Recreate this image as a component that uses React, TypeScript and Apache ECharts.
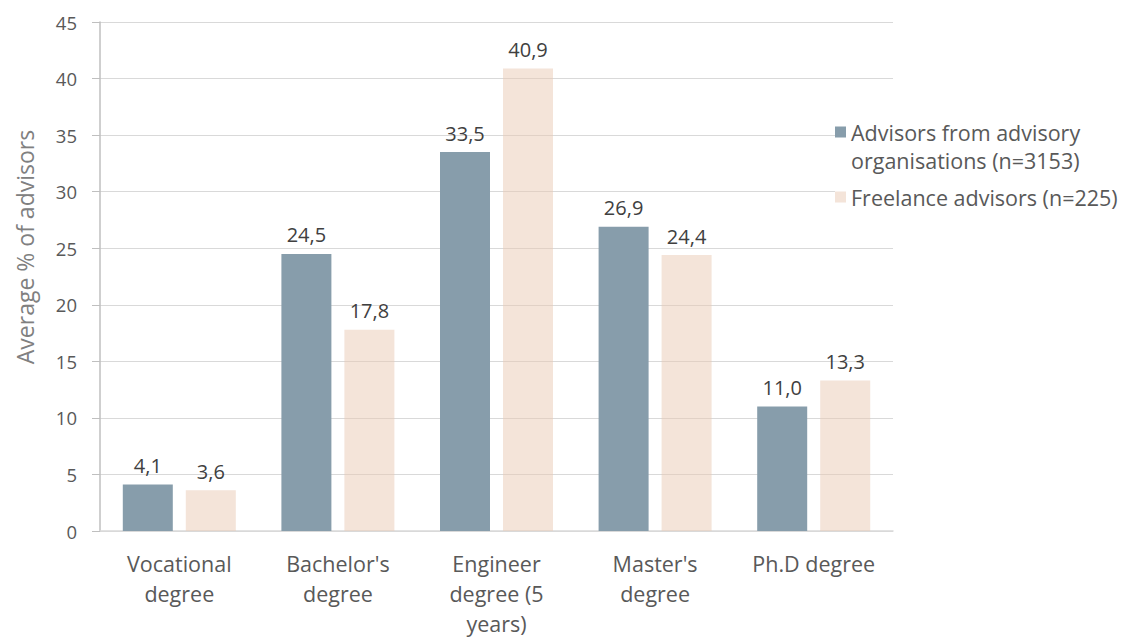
import React, { useEffect, useRef } from "react";
import * as echarts from "echarts";

const categories = [
  "Vocational\ndegree",
  "Bachelor's\ndegree",
  "Engineer\ndegree (5\nyears)",
  "Master's\ndegree",
  "Ph.D degree",
];
const seriesNames = [
  "Advisors from advisory\norganisations (n=3153)",
  "Freelance advisors (n=225)",
];
const organisationValues = [4.1, 24.5, 33.5, 26.9, 11.0];
const freelanceValues = [3.6, 17.8, 40.9, 24.4, 13.3];
const yTicks = { min: 0, max: 45, interval: 5 };

const FONT = "'Open Sans', sans-serif";
const fmt = (v: number) => v.toFixed(1).replace(".", ",");

export default function App() {
  const ref = useRef<HTMLDivElement>(null);

  useEffect(() => {
    if (!ref.current) return;
    const chart = echarts.init(ref.current, undefined, { renderer: "svg" });
    const barLabel = {
      show: true,
      position: "top" as const,
      distance: 9,
      color: "#404040",
      fontFamily: FONT,
      fontSize: 20,
      formatter: (p: any) => fmt(p.value),
    };
    chart.setOption({
      animation: false,
      backgroundColor: "#ffffff",
      textStyle: { fontFamily: FONT },
      grid: { left: 100, top: 22, right: 242, bottom: 102, containLabel: false },
      legend: {
        orient: "vertical",
        left: 835,
        top: 90,
        padding: 0,
        itemGap: 9,
        itemWidth: 11,
        itemHeight: 11,
        icon: "rect",
        backgroundColor: "#ffffff",
        textStyle: { color: "#595959", fontFamily: FONT, fontSize: 21.5, lineHeight: 28 },
        // the multi-line entry gets a blank first line so its icon sits beside the text's first line
        formatter: (name: string) => (name.indexOf("\n") >= 0 ? "\u00a0\n" + name : name),
        data: seriesNames,
      },
      graphic: [
        {
          type: "text",
          x: 25,
          y: 247,
          rotation: Math.PI / 2,
          style: {
            text: "Average % of advisors",
            fill: "#808080",
            font: `23px ${FONT}`,
            align: "center",
            verticalAlign: "middle",
          },
        },
      ],
      xAxis: {
        type: "category",
        data: categories,
        axisLine: { lineStyle: { color: "#d9d9d9", width: 1.5 } },
        axisTick: { show: false },
        axisLabel: {
          color: "#595959",
          fontFamily: FONT,
          fontSize: 21.5,
          lineHeight: 30,
          margin: 17,
          interval: 0,
        },
      },
      yAxis: {
        type: "value",
        min: yTicks.min,
        max: yTicks.max,
        interval: yTicks.interval,
        axisLine: { show: true, lineStyle: { color: "#bfbfbf", width: 1.5 } },
        axisTick: { show: true, length: 8, lineStyle: { color: "#bfbfbf" } },
        axisLabel: { color: "#595959", fontFamily: FONT, fontSize: 18.5, margin: 23 },
        splitLine: { lineStyle: { color: "#d9d9d9", width: 1.2 } },
      },
      series: [
        {
          name: seriesNames[0],
          type: "bar",
          data: organisationValues,
          barWidth: 50,
          barGap: "26%",
          itemStyle: { color: "#879dab" },
          label: barLabel,
        },
        {
          name: seriesNames[1],
          type: "bar",
          data: freelanceValues,
          barWidth: 50,
          itemStyle: { color: "rgba(233,201,179,0.5)" },
          label: barLabel,
        },
      ],
    });
    return () => chart.dispose();
  }, []);

  return (
    <div
      ref={ref}
      style={{ position: "absolute", left: 0, top: 0, width: 1135, height: 638 }}
    />
  );
}
